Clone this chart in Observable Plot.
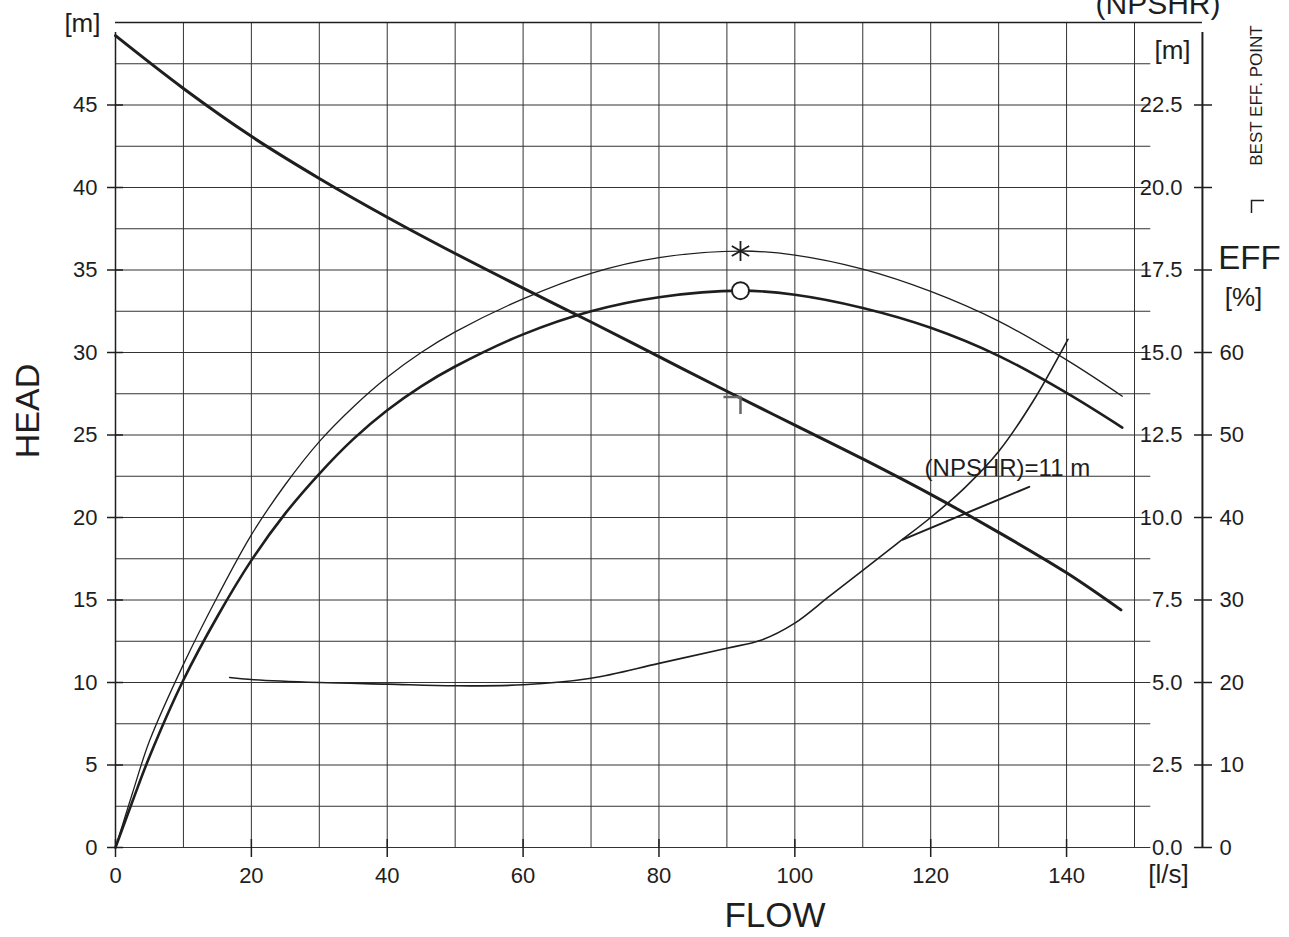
<!DOCTYPE html>
<html>
<head>
<meta charset="utf-8">
<script src="https://cdn.jsdelivr.net/npm/d3@7"></script>
<script src="https://cdn.jsdelivr.net/npm/@observablehq/plot@0.6"></script>
<style>
  html, body { margin: 0; padding: 0; background: #fff; overflow: hidden; }
  #chart svg { display: block; }
</style>
</head>
<body>
<div id="chart"></div>
<script>
// ---- Data ----
// Head curve [m] vs flow [l/s]
const headFlow = [0, 10, 20, 30, 40, 50, 60, 70, 80, 90, 100, 110, 120, 130, 140, 148];
const headM    = [49.2, 46.0, 43.1, 40.55, 38.2, 36.0, 33.9, 31.85, 29.75, 27.65, 25.6, 23.55, 21.4, 19.1, 16.65, 14.4];

// Efficiency curve (thick) [%]
const effFlow = [0, 2.5, 5, 10, 15, 20, 25, 30, 35, 40, 45, 50, 60, 70, 80, 92, 100, 110, 120, 130, 140, 148.2];
const effPct  = [0, 5.6, 11.0, 20.3, 28.0, 34.8, 40.5, 45.3, 49.5, 53.0, 55.9, 58.3, 62.2, 65.0, 66.7, 67.5, 67.0, 65.4, 63.0, 59.6, 55.1, 50.9];

// Second efficiency curve (thin) [%]
const eff2Flow = [0, 2.5, 5, 10, 15, 20, 25, 30, 35, 40, 45, 50, 60, 70, 80, 92, 100, 110, 120, 130, 140, 148.2];
const eff2Pct  = [0, 6.6, 12.9, 22.2, 30.4, 37.9, 44.0, 49.2, 53.4, 57.0, 60.0, 62.5, 66.5, 69.6, 71.5, 72.3, 71.8, 70.1, 67.4, 63.8, 59.1, 54.7];

// NPSHR curve [m]
const npshFlow = [16.8, 20, 30, 40, 50, 60, 70, 80, 90, 95, 100, 105, 110, 115, 120, 125, 130, 135, 140.2];
const npshM    = [5.15, 5.09, 5.0, 4.95, 4.9, 4.93, 5.13, 5.58, 6.04, 6.28, 6.8, 7.6, 8.4, 9.2, 10.0, 10.9, 12.0, 13.5, 15.4];

// NPSHR label leader line [flow, m]
const leaderFlow = [115.9, 134.5];
const leaderM    = [9.33, 10.93];

// Best efficiency point
const bepFlow = 92;
const bepHead = 27.3;
const bepEff = 67.5;
const bepEff2 = 72.3;

// NPSHR label
const npshLabel = "(NPSHR)=11 m";
const npshLabelFlow = 119.1;
const npshLabelM = 11.5;

// Axis ticks
const flowTicks = [0, 20, 40, 60, 80, 100, 120, 140];
const headTicks = [0, 5, 10, 15, 20, 25, 30, 35, 40, 45];
const npshTicks = [0, 2.5, 5, 7.5, 10, 12.5, 15, 17.5, 20, 22.5];
const effTicks  = [0, 10, 20, 30, 40, 50, 60];
const gridFlow  = [10, 20, 30, 40, 50, 60, 70, 80, 90, 100, 110, 120, 130, 140, 150];
const gridHead  = [0, 2.5, 5, 7.5, 10, 12.5, 15, 17.5, 20, 22.5, 25, 27.5, 30, 32.5, 35, 37.5, 40, 42.5, 45, 47.5];

// ---- Build ----
const zipRows = (xs, ys) => xs.map((x, i) => ({x, v: ys[i]}));
const headRows = zipRows(headFlow, headM);
const effRows = zipRows(effFlow, effPct);
const eff2Rows = zipRows(eff2Flow, eff2Pct);
const npshRows = zipRows(npshFlow, npshM);
const leaderRows = zipRows(leaderFlow, leaderM);

const ink = "#1e1e1e";
const font = '"Liberation Sans", Arial, Helvetica, sans-serif';

// BEP symbol: ┐ shape (arm to the left, arm downward)
const bepSymbol = {
  draw(ctx, size) {
    const s = Math.sqrt(size / Math.PI);
    ctx.moveTo(-s, 0);
    ctx.lineTo(0, 0);
    ctx.lineTo(0, s);
  }
};

const label = (txt, anchor, dx, dy, size, extra = {}) =>
  Plot.text([txt], {frameAnchor: anchor, dx, dy, text: d => d, fontSize: size, fill: ink,
    textAnchor: "middle", lineAnchor: "middle", ...extra});

const chart = Plot.plot({
  width: 1289,
  height: 937,
  marginLeft: 115,
  marginRight: 155,
  marginTop: 22,
  marginBottom: 90,
  style: {fontFamily: font, color: ink, background: "white", overflow: "visible"},
  x: {domain: [0, 150], axis: null},
  y: {domain: [0, 50], axis: null},
  marks: [
    // grid
    Plot.ruleX(gridFlow, {y1: 0, y2: 50, stroke: "#333", strokeWidth: 1}),
    Plot.ruleY(gridHead, {x1: 0, x2: 152.4, stroke: "#333", strokeWidth: 1}),
    Plot.ruleY([50], {x1: 0, x2: 160, stroke: ink, strokeWidth: 1.5}),
    Plot.ruleX([0], {y1: 0, y2: 50, insetBottom: -10, stroke: ink, strokeWidth: 1.5}),
    Plot.ruleX([160], {y1: 0, y2: 50, insetBottom: -10, stroke: ink, strokeWidth: 2}),

    // axes
    Plot.axisX(flowTicks, {anchor: "bottom", tickSize: 18, dy: -8, tickPadding: 10, fontSize: 22, label: null, stroke: ink, strokeWidth: 1.5, fill: ink}),
    Plot.axisY(headTicks, {anchor: "left", tickSize: 16, dx: 8, tickPadding: 10, fontSize: 22, label: null, stroke: ink, strokeWidth: 1.5, fill: ink}),
    Plot.axisY(headTicks, {anchor: "right", tickSize: 18, dx: 59, tickPadding: 8, fontSize: 22, label: null, stroke: ink, strokeWidth: 1.5, fill: ink,
      tickFormat: d => effTicks.includes(d * 2) ? String(d * 2) : ""}),
    Plot.text(npshTicks, {y: d => d * 2, text: d => d.toFixed(1), frameAnchor: "right", dx: 48, textAnchor: "end", lineAnchor: "middle", fontSize: 22, fill: ink}),

    // curves
    Plot.line(eff2Rows, {x: "x", y: d => d.v / 2, curve: "catmull-rom", stroke: ink, strokeWidth: 1.3}),
    Plot.line(effRows, {x: "x", y: d => d.v / 2, curve: "catmull-rom", stroke: ink, strokeWidth: 2.6}),
    Plot.line(npshRows, {x: "x", y: d => d.v * 2, curve: "catmull-rom", stroke: ink, strokeWidth: 1.6}),
    Plot.line(leaderRows, {x: "x", y: d => d.v * 2, stroke: ink, strokeWidth: 2}),
    Plot.line(headRows, {x: "x", y: "v", curve: "catmull-rom", stroke: ink, strokeWidth: 3}),

    // markers
    Plot.dot([bepEff2], {x: () => bepFlow, y: d => d / 2, symbol: "asterisk", r: 9.5, stroke: ink, strokeWidth: 1.8}),
    Plot.dot([bepEff], {x: () => bepFlow, y: d => d / 2, symbol: "circle", r: 8.5, fill: "white", stroke: ink, strokeWidth: 2}),
    Plot.dot([bepHead], {x: () => bepFlow, y: d => d, symbol: bepSymbol, r: 17, stroke: "#666", strokeWidth: 2.5, fill: "none"}),

    // NPSHR label
    Plot.text([npshLabel], {x: () => npshLabelFlow, y: () => npshLabelM * 2, text: d => d, textAnchor: "start", lineAnchor: "middle", fontSize: 24, fill: ink}),

    // axis titles and units
    label("[m]", "top-left", -15, 1, 26, {textAnchor: "end"}),
    label("HEAD", "left", -87, -24, 34, {rotate: -90}),
    label("FLOW", "bottom", 150, 68, 35),
    label("[l/s]", "bottom-right", 34, 27, 26),
    label("[m]", "top-right", 38, 28, 26),
    label("(NPSHR)", "top-right", 86, -18.6, 30, {textAnchor: "end"}),
    label("EFF", "top-right", 115, 236, 33),
    label("[%]", "top-right", 109, 275, 26),
    label("BEST EFF. POINT", "top-right", 122, 73, 17, {rotate: -90}),
    Plot.dot([0], {frameAnchor: "top-right", dx: 117, dy: 178, symbol: bepSymbol, r: 12.5, rotate: -90, stroke: ink, strokeWidth: 1.5, fill: "none"})
  ]
});

document.getElementById("chart").appendChild(chart);
</script>
</body>
</html>
